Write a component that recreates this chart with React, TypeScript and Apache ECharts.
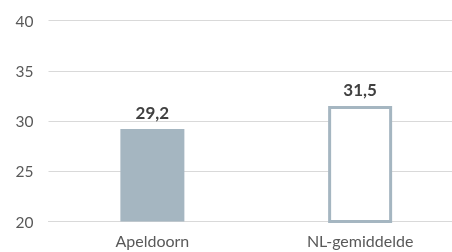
import React, { useEffect, useRef } from "react";
import * as echarts from "echarts";

const categories = ["Apeldoorn", "NL-gemiddelde"];
const values = [29.2, 31.5];
const yTicks = { min: 20, max: 40, interval: 5 };

export default function App() {
  const ref = useRef<HTMLDivElement>(null);
  useEffect(() => {
    const chart = echarts.init(ref.current!, null, { renderer: "svg" });
    const fmt = (v: number) => v.toFixed(1).replace(".", ",");
    chart.setOption({
      animation: false,
      grid: { left: 48.5, right: 0, top: 20.5, bottom: 30.5 },
      xAxis: {
        type: "category",
        data: categories,
        axisLine: { show: true, lineStyle: { color: "#d9d9d9", width: 1 } },
        axisTick: { show: false },
        axisLabel: {
          color: "#595959",
          fontFamily: "Lato",
          fontSize: 16,
          margin: 11,
        },
      },
      yAxis: {
        type: "value",
        min: yTicks.min,
        max: yTicks.max,
        interval: yTicks.interval,
        axisLine: { show: false },
        axisTick: { show: false },
        splitLine: { lineStyle: { color: "#d9d9d9", width: 1 } },
        axisLabel: {
          color: "#595959",
          fontFamily: "Lato",
          fontSize: 15.5,
          margin: 15,
        },
      },
      series: [
        {
          type: "bar",
          barWidth: 64,
          data: [
            { value: values[0], itemStyle: { color: "#a5b6c1" } },
            {
              value: values[1],
              itemStyle: { color: "#ffffff", borderColor: "#a5b6c1", borderWidth: 3 },
            },
          ],
          label: {
            show: true,
            position: "top",
            distance: 8,
            color: "#404040",
            fontFamily: "Lato",
            fontWeight: "bold",
            fontSize: 17,
            formatter: (p: any) => fmt(p.value),
          },
        },
      ],
    });
    return () => chart.dispose();
  }, []);
  return (
    <div
      style={{
        position: "fixed",
        left: 0,
        top: 0,
        width: 452,
        height: 252,
        overflow: "hidden",
      }}
    >
      <div ref={ref} style={{ width: 464, height: 252 }} />
    </div>
  );
}
